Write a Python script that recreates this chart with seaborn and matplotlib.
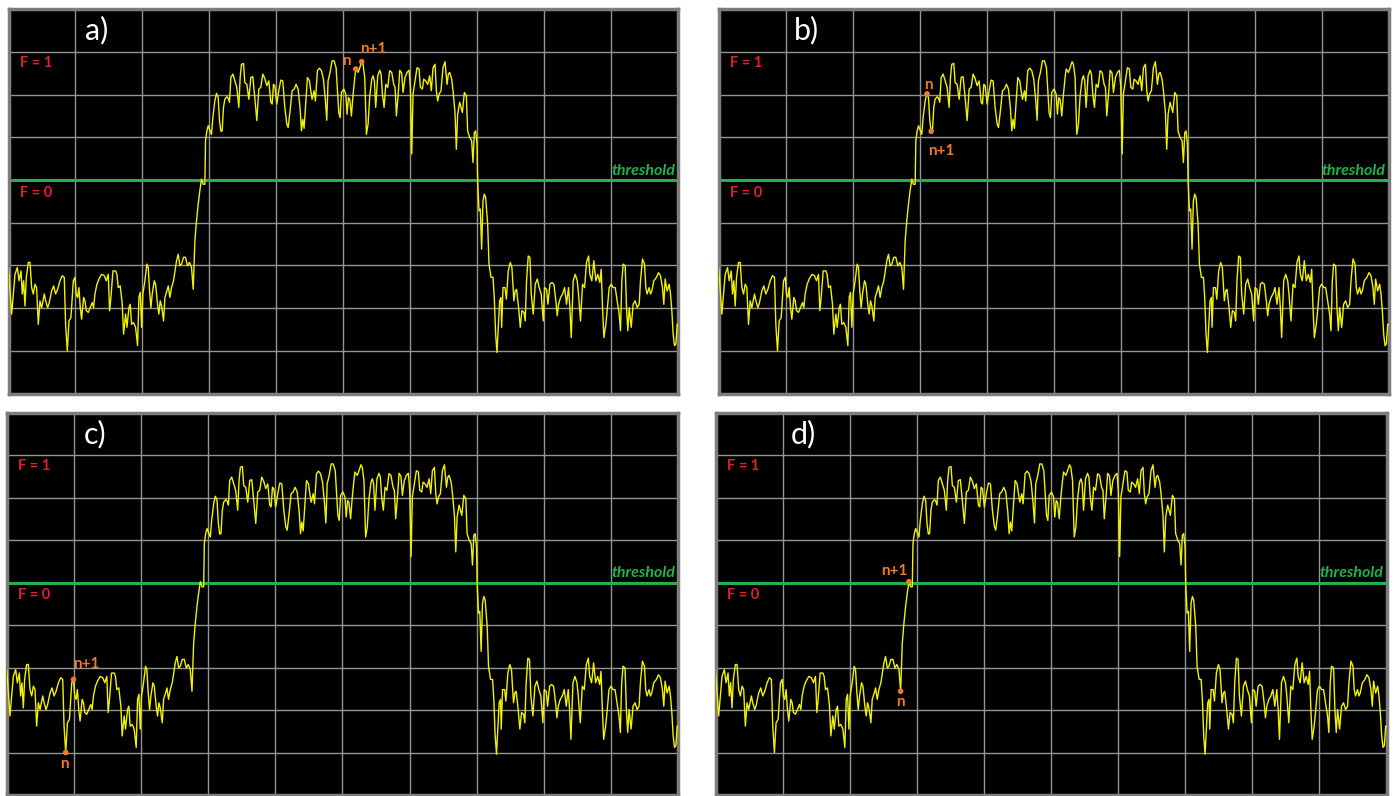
import numpy as np
import pandas as pd
import matplotlib
matplotlib.use("Agg")
import matplotlib.pyplot as plt
import seaborn as sns

sns.set_theme(style="dark")
plt.rcParams['font.family'] = ['Lato', 'DejaVu Sans']

# ---------------- data (time in screen units 0..1000, level in divisions 0..9) -------------
low_before = [
    (0, 2.95), (4.7, 1.86), (7.2, 2.33), (9.7, 2.79), (13.2, 2.95), (15.7, 2.64), (18.7, 2.87),
    (20.6, 2.33), (22.6, 2.64), (24.6, 2.05), (26.6, 2.72), (29.6, 3.07), (32.1, 3.07), (34.6, 2.48),
    (37.1, 2.33), (39.6, 2.56), (42.0, 2.48), (44.5, 1.62), (47.0, 2.17), (49.5, 2.01), (53.5, 2.33),
    (55.5, 2.17), (58.5, 2.01), (60.9, 2.13), (64.4, 2.40), (67.4, 2.52), (70.4, 2.33), (73.4, 2.44),
    (76.9, 2.64), (80.3, 2.76), (83.3, 2.72), (85.3, 1.62), (87.8, 1.00), (90.3, 1.70), (93.3, 1.78),
    (96.8, 2.64), (99.3, 2.72), (101.2, 2.33), (103.2, 2.25), (105.2, 2.48), (107.2, 2.01), (109.2, 1.74),
    (112.2, 2.25), (114.2, 2.17), (116.2, 1.94), (119.2, 1.90), (122.1, 2.01), (125.1, 2.13), (127.1, 2.01),
    (129.1, 2.33), (132.1, 2.56), (135.1, 2.68), (139.1, 2.79), (143.0, 2.76), (146.0, 2.64), (149.0, 2.79),
    (151.0, 1.94), (153.0, 2.25), (156.0, 2.87), (160.0, 2.87), (161.9, 2.79), (163.9, 2.48), (166.9, 2.52),
    (169.9, 2.09), (171.9, 1.39), (174.9, 1.86), (176.9, 1.55), (179.9, 2.01), (181.8, 2.09), (183.8, 1.62),
    (186.8, 1.66), (189.8, 1.55), (192.8, 1.12), (194.8, 2.25), (196.8, 2.37), (198.8, 1.55), (200.7, 2.33),
    (203.7, 2.64), (206.7, 3.03), (208.7, 2.95), (210.7, 2.40), (212.7, 2.01), (214.7, 2.33), (217.7, 2.64),
    (219.7, 2.56), (222.6, 2.09), (224.6, 1.86), (226.6, 2.17), (228.6, 2.05), (231.6, 1.70), (233.6, 2.25),
    (236.6, 2.40), (238.6, 2.52), (241.0, 2.25), (243.5, 2.48), (246.5, 2.64), (251.0, 3.11), (253.5, 3.26),
    (256.0, 2.99), (258.5, 3.03), (261.4, 3.19), (264.4, 3.19), (267.4, 2.99), (270.4, 3.07), (273.4, 2.95),
]

rise = [
    (275.9, 2.44), (278.4, 3.58), (280.8, 4.04), (283.3, 4.43), (285.8, 4.75), (288.3, 5.02), (290.8, 4.90),
    (293.3, 4.90), (294.3, 5.92), (296.3, 6.15), (298.3, 6.27), (301.2, 6.15), (303.2, 6.07), (305.2, 6.46),
    (308.2, 6.85),
]

high = [
    (310.7, 7.03), (313.2, 6.93), (315.2, 6.39), (317.2, 6.14), (319.1, 6.15), (321.1, 6.70), (323.1, 6.89),
    (326.1, 6.95), (328.1, 6.92), (330.1, 6.82), (332.1, 7.40), (335.1, 7.48), (338.1, 7.32), (341.0, 7.17),
    (344.0, 6.70), (346.0, 7.40), (348.0, 7.71), (351.0, 7.73), (353.0, 7.28), (356.0, 7.24), (359.0, 6.89),
    (361.9, 7.40), (364.9, 7.42), (367.9, 6.93), (370.9, 6.39), (373.9, 7.13), (376.9, 7.17), (379.8, 7.48),
    (382.8, 7.38), (385.8, 7.21), (388.8, 7.32), (391.8, 6.82), (393.8, 6.78), (395.8, 7.24), (397.8, 7.21),
    (400.7, 6.78), (403.7, 7.09), (406.7, 7.34), (409.7, 7.32), (412.7, 6.70), (415.7, 6.31), (417.7, 6.23),
    (420.6, 6.62), (423.6, 7.09), (426.6, 7.13), (429.6, 7.24), (432.6, 7.13), (435.6, 6.66), (437.6, 6.15),
    (439.5, 6.42), (441.5, 6.21), (443.5, 6.70), (446.5, 7.40), (449.5, 7.32), (451.5, 7.09), (453.5, 6.89),
    (456.5, 7.09), (458.4, 6.85), (461.4, 7.56), (464.4, 7.62), (467.4, 7.56), (470.4, 7.36), (473.4, 6.85),
    (475.4, 6.40), (477.3, 7.32), (480.3, 7.52), (483.3, 7.79), (486.3, 7.79), (489.3, 7.63), (491.3, 7.09),
    (493.3, 6.58), (495.3, 6.46), (497.3, 7.05), (500.8, 7.13), (503.8, 7.01), (505.7, 6.54), (507.7, 6.93),
    (509.7, 6.89), (512.2, 6.50), (514.7, 7.01), (517.2, 7.40), (518.7, 7.60), (522.2, 7.52), (524.7, 7.63),
    (527.6, 7.77), (529.6, 7.71), (532.1, 7.40), (534.6, 6.07), (537.1, 6.31), (539.6, 6.97), (542.6, 7.36),
    (544.6, 7.44), (546.5, 7.32), (548.5, 6.70), (551.5, 7.44), (554.5, 7.57), (556.5, 7.48), (558.5, 7.01),
    (561.0, 6.70), (563.5, 7.24), (566.4, 7.17), (569.4, 7.56), (572.4, 7.52), (575.4, 7.24), (577.4, 7.17),
    (579.4, 6.50), (582.4, 7.09), (584.4, 7.57), (587.3, 7.50), (589.3, 7.05), (592.3, 7.40), (595.3, 7.52),
    (598.3, 7.57), (600.3, 7.17), (602.3, 5.61), (604.2, 7.01), (607.2, 7.32), (610.2, 7.63), (613.2, 7.60),
    (615.2, 7.17), (618.2, 7.13), (620.2, 7.36), (623.2, 7.32), (626.1, 7.24), (629.1, 7.44), (631.6, 7.09),
    (634.1, 7.63), (637.1, 7.71), (639.1, 7.09), (641.1, 6.85), (643.1, 7.01), (646.0, 7.09), (649.0, 7.63),
    (652.0, 7.77), (655.0, 7.24), (657.0, 7.48), (659.0, 7.52), (662.0, 7.36), (664.0, 7.09), (666.9, 6.58),
    (668.9, 5.72), (670.9, 6.54), (673.9, 6.82), (675.9, 6.70), (677.9, 6.58), (680.9, 7.05), (683.9, 6.97),
    (685.8, 6.15), (688.8, 6.00), (691.8, 5.92), (693.8, 5.41), (695.8, 6.11), (697.8, 6.15), (699.8, 5.84),
]

fall = [
    (700.8, 4.98), (702.8, 4.28), (704.7, 4.32), (706.7, 3.38), (708.7, 4.51), (710.7, 4.67), (712.7, 4.59),
    (715.7, 3.97), (717.7, 3.03), (720.7, 2.72), (723.7, 2.72), (725.6, 2.25), (727.6, 1.39), (729.6, 0.96),
]

low_after = [
    (731.6, 1.55), (733.6, 2.17), (735.6, 2.25), (736.6, 1.55), (738.6, 2.48), (741.6, 2.48), (743.6, 2.21),
    (746.5, 2.87), (749.5, 3.07), (751.9, 2.95), (754.9, 2.17), (756.9, 2.40), (758.9, 2.44), (761.9, 2.01),
    (764.4, 1.55), (766.9, 1.94), (769.9, 1.90), (771.8, 1.70), (773.8, 2.64), (776.3, 3.22), (778.8, 3.19),
    (780.8, 2.33), (783.8, 1.86), (786.8, 2.56), (789.8, 2.68), (792.7, 2.48), (795.7, 2.33), (798.7, 1.70),
    (800.7, 2.48), (803.7, 2.44), (805.7, 2.09), (808.7, 2.56), (811.6, 2.60), (814.6, 2.56), (817.6, 2.17),
    (819.6, 1.82), (821.6, 2.09), (824.6, 2.25), (827.6, 2.33), (830.6, 2.48), (833.5, 2.09), (836.5, 2.48),
    (838.5, 2.01), (840.5, 1.31), (843.5, 2.64), (846.5, 2.79), (849.5, 2.64), (851.4, 2.33), (854.4, 1.70),
    (857.4, 2.56), (860.4, 2.48), (863.4, 3.07), (866.4, 3.22), (868.4, 2.79), (871.3, 2.64), (874.3, 3.11),
    (877.3, 2.64), (880.3, 2.79), (883.3, 2.60), (885.3, 2.91), (887.3, 2.01), (889.3, 1.31), (892.2, 1.62),
    (894.2, 1.94), (897.2, 2.48), (900.2, 2.56), (903.2, 2.48), (906.2, 2.48), (909.2, 2.17), (912.1, 1.86),
    (914.1, 1.47), (916.1, 2.64), (918.1, 3.03), (921.1, 2.99), (923.1, 2.01), (925.1, 1.47), (927.1, 2.01),
    (930.1, 1.55), (933.0, 2.09), (936.0, 2.17), (939.0, 2.01), (942.0, 2.09), (944.0, 2.64), (947.0, 3.15),
    (950.0, 3.03), (951.9, 2.48), (953.9, 2.33), (956.9, 2.48), (958.9, 2.33), (960.9, 2.40), (963.9, 2.64),
    (967.9, 2.72), (970.8, 2.83), (973.8, 2.76), (976.8, 2.48), (978.8, 2.09), (980.8, 2.68), (983.8, 2.40),
    (986.8, 2.56), (988.8, 2.33), (990.8, 1.94), (992.8, 1.39), (994.8, 1.12), (996.8, 1.16), (998.8, 1.62),
    (1000.0, 1.62),
]

panel_labels = ['a)', 'b)', 'c)', 'd)']
# sample times of the highlighted samples n and n+1 in each panel
marker_times = {'a)': (518.7, 527.6), 'b)': (311.0, 317.2), 'c)': (87.8, 99.3), 'd)': (275.9, 288.3)}
marker_names = ['n', 'n+1']
threshold_level = 5.0

# ---------------- styling / layout ----------------
trace = pd.DataFrame(low_before + rise + high + fall + low_after, columns=['t', 'level'])

W, H = 1394, 796
boxes_px = {'a)': (8.5, 9.2, 678.0, 393.5), 'b)': (718.7, 9.2, 1388.5, 393.5),
            'c)': (6.8, 412.5, 678.0, 795.0), 'd)': (715.5, 412.5, 1386.5, 795.0)}
label_offsets = {'a)': [(-7, 6), (8, 9)], 'b)': [(0.7, 6.5), (7, -14.5)],
                 'c)': [(-0.7, -8.6), (9, 10.8)], 'd)': [(0, -8), (-10.5, 8)]}

YELLOW = '#f2f200'
GREEN = '#22b14c'
RED = '#e3202a'
ORANGE = '#f07a2a'

fig = plt.figure(figsize=(W / 100, H / 100), dpi=100, facecolor='white')

for lab in panel_labels:
    l, t, r, b = boxes_px[lab]
    ax = fig.add_axes([l / W, 1 - b / H, (r - l) / W, (b - t) / H])
    ax.set_facecolor('black')
    ax.set_xlim(0, 1000)
    ax.set_ylim(0, 9)
    ax.set_xticks(np.arange(0, 1001, 100))
    ax.set_yticks(np.arange(0, 10, 1))
    ax.tick_params(length=0, labelbottom=False, labelleft=False)
    ax.grid(True, color='#949494', lw=1.0)
    ax.set_axisbelow(True)

    ax.axhline(threshold_level, color=GREEN, lw=2.2, zorder=2)
    sns.lineplot(data=trace, x='t', y='level', ax=ax, color=YELLOW, lw=1.0,
                 estimator=None, sort=False, legend=False, zorder=3)
    ax.set_xlabel('')
    ax.set_ylabel('')

    mt = np.array(marker_times[lab])
    mv = np.interp(mt, trace['t'], trace['level'])
    sns.scatterplot(x=mt, y=mv, ax=ax, color=ORANGE, s=16, edgecolor='none', zorder=4, legend=False)
    for name, x_, y_, off in zip(marker_names, mt, mv, label_offsets[lab]):
        ax.annotate(name, (x_, y_), xytext=off, textcoords='offset points', color=ORANGE,
                    fontsize=11, fontweight='bold', ha='center', va='center', zorder=5)

    ax.text(131, 8.5, lab, color='white', fontsize=22, ha='center', va='center')
    ax.text(17, 7.75, 'F = 1', color=RED, fontsize=10.5, fontweight='bold', va='center')
    ax.text(17, 4.7, 'F = 0', color=RED, fontsize=10.5, fontweight='bold', va='center')
    ax.text(996, 5.12, 'threshold', color=GREEN, fontsize=11.5, fontweight='bold',
            style='italic', ha='right', va='baseline')

    for sp in ax.spines.values():
        sp.set_visible(True)
        sp.set_color('#7d7d7d')
        sp.set_linewidth(2.5)

fig.savefig('out.png', dpi=100, facecolor='white')
